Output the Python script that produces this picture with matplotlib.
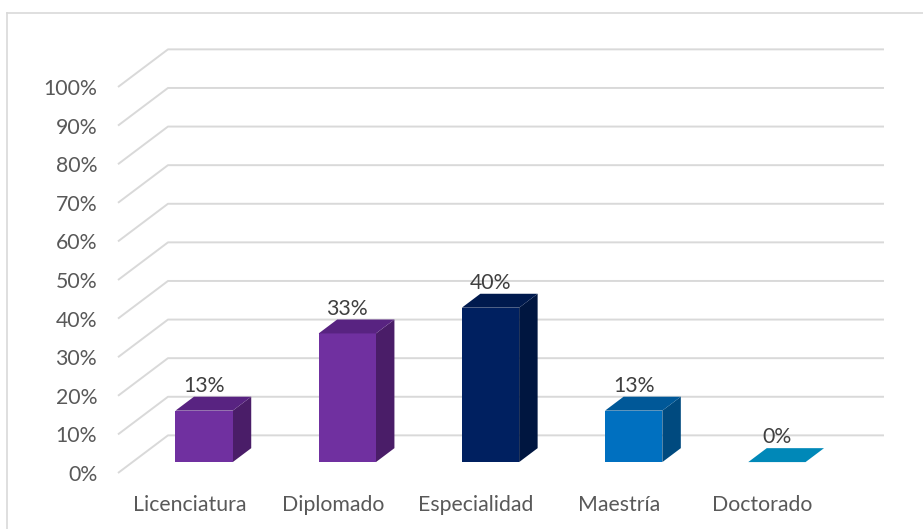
import matplotlib
matplotlib.use("Agg")
import matplotlib.pyplot as plt
from matplotlib.patches import Polygon, Rectangle
from matplotlib.lines import Line2D

# --- data ---
categories = ["Licenciatura", "Diplomado", "Especialidad", "Maestría", "Doctorado"]
values = [13.33, 33.33, 40.0, 13.33, 0.0]   # percent
tick_values = list(range(0, 101, 10))

# face colours per bar: (front, top, side)
front_colors = ["#7030A0", "#7030A0", "#002060", "#0070C0", "#0088B8"]
top_colors = ["#582381", "#582381", "#001A4E", "#005898", "#0088B8"]
side_colors = ["#4A1D68", "#4A1D68", "#001640", "#004A7F", "#006E96"]

TEXT = "#595959"
GRID = "#D9D9D9"
FONT = ["Lato", "DejaVu Sans"]
FS = 15.3

# 3D look: depth vector (data units) from the front floor edge to the back wall
DDX, DDY = 0.349, 9.75
BAR_W = 0.40
BAR_D0, BAR_D1 = 0.29, 0.66   # bar front/back depth

W, H = 923, 529
fig = plt.figure(figsize=(W / 100, H / 100), dpi=100)
ax = fig.add_axes([118 / W, 56 / H, 716 / W, 386 / H])
ax.set_xlim(-0.5, len(categories) - 0.5)
ax.set_ylim(0, 100)
for s in ax.spines.values():
    s.set_visible(False)

# chart-area border (only top/left fall inside the image)
fig.add_artist(Line2D([7 / W, 1], [1 - 13 / H, 1 - 13 / H], transform=fig.transFigure,
                      color=GRID, lw=1.2))
fig.add_artist(Line2D([7 / W, 7 / W], [0, 1 - 13 / H], transform=fig.transFigure,
                      color=GRID, lw=1.2))

# side-wall diagonals and back-wall gridlines
x_left, x_right = -0.5, len(categories) - 0.5
for v in tick_values:
    ax.plot([x_left, x_left + DDX, x_right + DDX], [v, v + DDY, v + DDY],
            color=GRID, lw=1.4, clip_on=False, zorder=1, solid_capstyle="butt")

# bars
for i, (v, fc, tc, sc) in enumerate(zip(values, front_colors, top_colors, side_colors)):
    x0 = i - BAR_W / 2 + BAR_D0 * DDX
    y0 = BAR_D0 * DDY
    x1 = x0 + BAR_W
    bx = (BAR_D1 - BAR_D0) * DDX
    by = (BAR_D1 - BAR_D0) * DDY
    top = y0 + v
    if v > 0:
        ax.add_patch(Polygon([(x1, y0), (x1 + bx, y0 + by), (x1 + bx, top + by), (x1, top)],
                             closed=True, facecolor=sc, edgecolor="none", zorder=3, clip_on=False))
        ax.add_patch(Rectangle((x0, y0), BAR_W, v, facecolor=fc, edgecolor="none",
                               zorder=4, clip_on=False))
    ax.add_patch(Polygon([(x0, top), (x1, top), (x1 + bx, top + by), (x0 + bx, top + by)],
                         closed=True, facecolor=tc, edgecolor="none", zorder=4, clip_on=False))
    ax.text(i + BAR_D0 * DDX, top + by + 0.2, f"{v:.0f}%", ha="center", va="bottom",
            fontsize=FS, color="#404040", family=FONT, zorder=5)

# axes ticks
ax.set_yticks(tick_values)
ax.set_yticklabels([f"{t}%" for t in tick_values])
ax.set_xticks(range(len(categories)))
ax.set_xticklabels(categories)
ax.tick_params(axis="y", length=0, pad=15, labelsize=FS, labelcolor=TEXT)
ax.tick_params(axis="x", length=0, pad=16, labelsize=FS, labelcolor=TEXT)
for lab in ax.get_xticklabels() + ax.get_yticklabels():
    lab.set_family(FONT)

fig.savefig("out.png", dpi=100)
